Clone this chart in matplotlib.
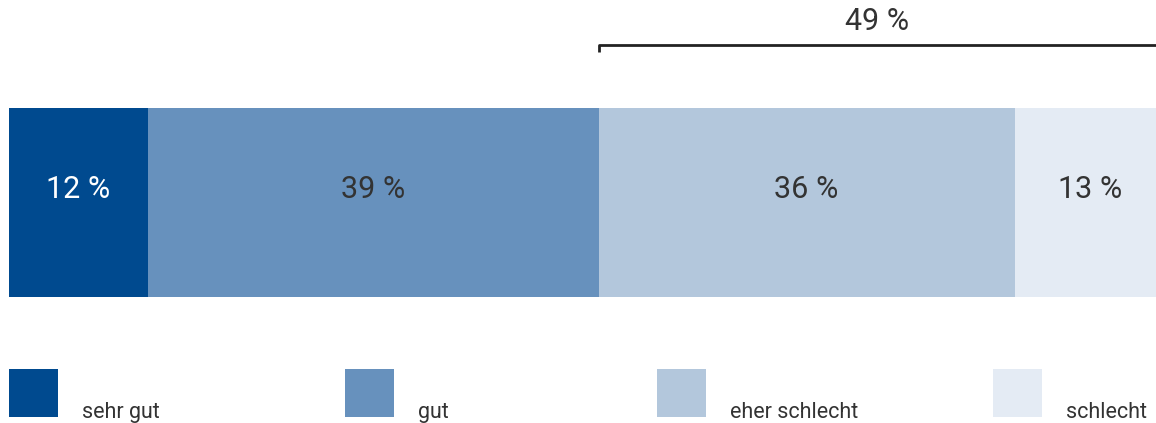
import matplotlib
matplotlib.use("Agg")
import matplotlib.pyplot as plt
from matplotlib.patches import Rectangle

# data
categories = ["sehr gut", "gut", "eher schlecht", "schlecht"]
values = [12, 39, 36, 13]
colors = ["#004a8f", "#6791bd", "#b3c7dc", "#e4ebf4"]
label_colors = ["white", "#333333", "#333333", "#333333"]
bracket_label = "49 %"

plt.rcParams["font.family"] = ["Roboto", "DejaVu Sans"]

W, H = 1156, 423
fig = plt.figure(figsize=(W / 100, H / 100), dpi=100)
ax = fig.add_axes([0, 0, 1, 1])
# x in percent, y in pixels from top
px = 11.56
ax.set_xlim(-9 / px, (W - 9) / px)
ax.set_ylim(H, 0)
ax.axis("off")

left = 0
for v, c, lc in zip(values, colors, label_colors):
    ax.barh(202.5, v, left=left, height=189, color=c, edgecolor="none")
    ax.text(left + v / 2, 190, f"{v} %", ha="center", va="center",
            fontsize=22, color=lc)
    left += v

# bracket over the two negative answers
start = values[0] + values[1]
ax.plot([start, start, 101], [52, 45, 45], color="#222222", lw=2,
        solid_capstyle="butt", clip_on=False)
ax.text((start + 99.2) / 2, 21, bracket_label, ha="center", va="center",
        fontsize=22, color="#333333")

# legend (pixel positions converted to axis units)
leg_x = [9, 345, 657, 993]
for x0, c, name in zip(leg_x, colors, categories):
    ax.add_patch(Rectangle(((x0 - 9) / px, 369), 49 / px, 48,
                           facecolor=c, edgecolor="none"))
    ax.text((x0 + 64) / px, 418, name, ha="left", va="baseline",
            fontsize=15.5, color="#333333")

fig.savefig("out.png", dpi=100)
